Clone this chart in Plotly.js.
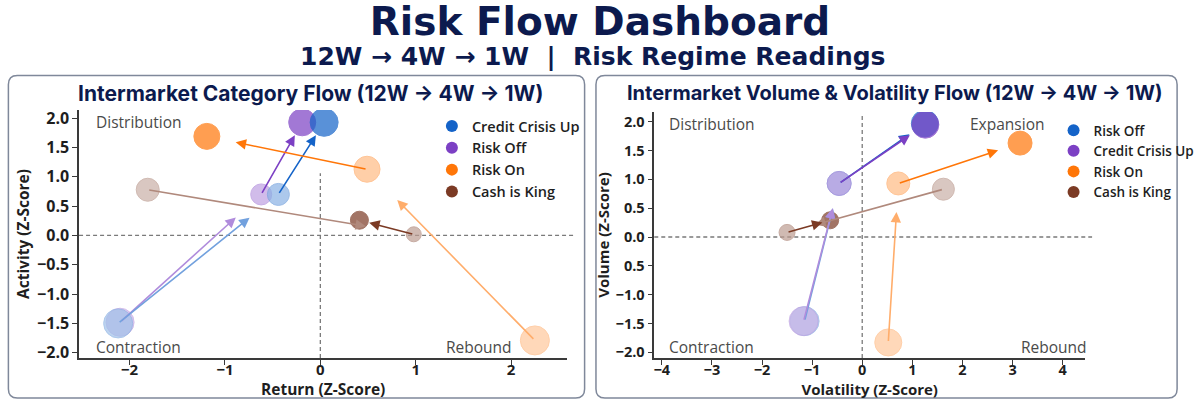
<!DOCTYPE html>
<html>
<head>
<meta charset="utf-8">
<script src="https://cdn.plot.ly/plotly-3.0.1.min.js"></script>
<style>
  html, body { margin: 0; padding: 0; background: #ffffff; overflow: hidden; width: 1200px; height: 400px; }
  #chart { width: 1200px; height: 400px; overflow: hidden; }
</style>
</head>
<body>
<div id="chart"></div>
<script>
// ---------------- DATA (stages: 12W, 4W, 1W) ----------------
const stages = ["12W", "4W", "1W"];

// Left panel: Intermarket Category Flow — x = Return (Z), y = Activity (Z)
const catCreditCrisisX = [-2.12, -0.44, 0.04];
const catCreditCrisisY = [-1.50, 0.70, 1.93];
const catRiskOffX = [-2.10, -0.62, -0.19];
const catRiskOffY = [-1.48, 0.70, 1.93];
const catRiskOnX = [2.25, 0.49, -1.19];
const catRiskOnY = [-1.79, 1.13, 1.69];
const catCashX = [-1.81, 0.98, 0.41];
const catCashY = [0.78, 0.02, 0.26];

// Right panel: Intermarket Volume & Volatility Flow — x = Volatility (Z), y = Volume (Z)
const volRiskOffX = [-1.15, -0.46, 1.25];
const volRiskOffY = [-1.46, 0.93, 1.97];
const volCreditCrisisX = [-1.17, -0.46, 1.26];
const volCreditCrisisY = [-1.46, 0.93, 1.95];
const volRiskOnX = [0.52, 0.72, 3.15];
const volRiskOnY = [-1.83, 0.93, 1.63];
const volCashX = [1.62, -1.50, -0.64];
const volCashY = [0.83, 0.08, 0.29];

// Tick labels
const leftXTicks = [-2, -1, 0, 1, 2];
const leftYTicks = [2.0, 1.5, 1.0, 0.5, 0.0, -0.5, -1.0, -1.5, -2.0];
const leftYTickText = ["2.0", "1.5", "1.0", "0.5", "0.0", "\u22120.5", "\u22121.0", "\u22121.5", "\u22122.0"];
const rightXTicks = [-4, -3, -2, -1, 0, 1, 2, 3, 4];
const rightYTicks = [2.0, 1.5, 1.0, 0.5, 0.0, -0.5, -1.0, -1.5, -2.0];
const rightYTickText = ["2.0", "1.5", "1.0", "0.5", "0.0", "0.5", "\u22121.0", "\u22121.5", "\u22122.0"];

// ---------------- STYLE ----------------
const C = {
  blue: "#1463c8",
  purple: "#7c40c4",
  orange: "#ff7608",
  brown: "#7b3a24",
  navy: "#0c1a4e"
};
const stageStrength = [0.40, 0.50, 1.0];
const segOpacity = [0.6, 1.0];
const ARROW_FRAC = 0.82;
const FONT = "Open Sans, Noto Sans, sans-serif";
const TFONT = "DejaVu Sans, Inter, sans-serif";

function mixWhite(hex, a) {
  const n = parseInt(hex.slice(1), 16);
  const r = (n >> 16) & 255, g = (n >> 8) & 255, b = n & 255;
  const m = v => Math.round(v * a + 255 * (1 - a));
  return `rgb(${m(r)},${m(g)},${m(b)})`;
}

const traces = [];
const annotations = [];

function addSeries(name, xs, ys, color, sizes, xa, ya, legendId, rank) {
  traces.push({
    type: "scatter", mode: "markers", name: name,
    x: xs, y: ys, xaxis: xa, yaxis: ya,
    text: stages, hovertemplate: name + " %{text}: (%{x}, %{y})<extra></extra>",
    showlegend: false,
    marker: {
      color: stageStrength.map(a => mixWhite(color, a)),
      size: sizes,
      line: { width: 1, color: stageStrength.map(a => mixWhite(color, Math.min(1, a + 0.1))) }
    }
  });
  traces.push({
    type: "scatter", mode: "markers", name: name,
    x: [null], y: [null], xaxis: xa, yaxis: ya,
    legend: legendId, legendrank: rank, showlegend: true,
    marker: { color: color, size: 12 }
  });
  for (let i = 0; i < xs.length - 1; i++) {
    const tx = xs[i] + ARROW_FRAC * (xs[i + 1] - xs[i]);
    const ty = ys[i] + ARROW_FRAC * (ys[i + 1] - ys[i]);
    annotations.push({
      x: tx, y: ty, ax: xs[i], ay: ys[i],
      xref: xa, yref: ya, axref: xa, ayref: ya,
      text: "", showarrow: true,
      arrowhead: 2, arrowsize: 1.3, arrowwidth: 1.6,
      arrowcolor: mixWhite(color, segOpacity[i])
    });
  }
}

// Left panel (purple drawn under blue)
addSeries("Risk Off", catRiskOffX, catRiskOffY, C.purple, [28, 21, 27], "x", "y", "legend", 2);
addSeries("Credit Crisis Up", catCreditCrisisX, catCreditCrisisY, C.blue, [29, 22, 28], "x", "y", "legend", 1);
addSeries("Risk On", catRiskOnX, catRiskOnY, C.orange, [29, 26, 26], "x", "y", "legend", 3);
addSeries("Cash is King", catCashX, catCashY, C.brown, [23, 15, 18], "x", "y", "legend", 4);

// Right panel
addSeries("Risk Off", volRiskOffX, volRiskOffY, C.blue, [29, 24, 27], "x2", "y2", "legend2", 1);
addSeries("Credit Crisis Up", volCreditCrisisX, volCreditCrisisY, C.purple, [29, 24, 27], "x2", "y2", "legend2", 2);
addSeries("Risk On", volRiskOnX, volRiskOnY, C.orange, [27, 23, 24], "x2", "y2", "legend2", 3);
addSeries("Cash is King", volCashX, volCashY, C.brown, [22, 16, 17], "x2", "y2", "legend2", 4);

// quadrant labels
const qFont = { family: FONT, size: 15.5, color: "#4a4a4a" };
function qLabel(xr, yr, x, y, xanchor, text) {
  annotations.push({ xref: xr, yref: yr, x: x, y: y, xanchor: xanchor, yanchor: "middle",
    text: text, showarrow: false, font: qFont });
}
qLabel("x domain", "y domain", 0.031, 0.952, "left", "Distribution");
qLabel("x domain", "y domain", 0.031, 0.045, "left", "Contraction");
qLabel("x domain", "y domain", 0.89, 0.045, "right", "Rebound");
qLabel("x2 domain", "y2 domain", 0.03, 0.952, "left", "Distribution");
qLabel("x2 domain", "y2 domain", 0.91, 0.952, "right", "Expansion");
qLabel("x2 domain", "y2 domain", 0.03, 0.045, "left", "Contraction");
qLabel("x2 domain", "y2 domain", 1.01, 0.045, "right", "Rebound");

// panel titles
annotations.push({ xref: "paper", yref: "paper", x: 314 / 1200, y: 1 - 93 / 400, xanchor: "center", yanchor: "middle",
  showarrow: false, text: "<b>Intermarket Category Flow (12W \u2192 4W \u2192 1W)</b>",
  font: { family: "Inter, Roboto, sans-serif", size: 21, color: C.navy } });
annotations.push({ xref: "paper", yref: "paper", x: 906 / 1200, y: 1 - 93 / 400, xanchor: "center", yanchor: "middle",
  showarrow: false, text: "<b>Intermarket Volume &amp; Volatility Flow (12W \u2192 4W \u2192 1W)</b>",
  font: { family: "Inter, Roboto, sans-serif", size: 20, color: C.navy } });
// subtitle
annotations.push({ xref: "paper", yref: "paper", x: 0.5, y: 1 - 57 / 400, xanchor: "center", yanchor: "middle",
  showarrow: false, text: "<b>12W \u2192 4W \u2192 1W  |  Risk Regime Readings</b>",
  font: { family: TFONT, size: 25, color: C.navy } });

// panel boxes (rounded) + dashed reference lines
function roundRect(x0, y0, x1, y1, r) {
  const W = 1200, H = 400;
  const X = v => (v / W).toFixed(5), Y = v => (1 - v / H).toFixed(5);
  return `M ${X(x0 + r)} ${Y(y0)} L ${X(x1 - r)} ${Y(y0)} Q ${X(x1)} ${Y(y0)} ${X(x1)} ${Y(y0 + r)} ` +
         `L ${X(x1)} ${Y(y1 - r)} Q ${X(x1)} ${Y(y1)} ${X(x1 - r)} ${Y(y1)} ` +
         `L ${X(x0 + r)} ${Y(y1)} Q ${X(x0)} ${Y(y1)} ${X(x0)} ${Y(y1 - r)} ` +
         `L ${X(x0)} ${Y(y0 + r)} Q ${X(x0)} ${Y(y0)} ${X(x0 + r)} ${Y(y0)} Z`;
}
const dash = { color: "#7a7a7a", width: 1.3, dash: "4px,3px" };
const shapes = [
  { type: "path", xref: "paper", yref: "paper", path: roundRect(8.5, 75.5, 591.5, 398, 9),
    line: { color: "#7f889a", width: 1.5 }, fillcolor: "rgba(0,0,0,0)", layer: "below" },
  { type: "path", xref: "paper", yref: "paper", path: roundRect(603, 75.5, 1191, 398, 9),
    line: { color: "#7f889a", width: 1.5 }, fillcolor: "rgba(0,0,0,0)", layer: "below" },
  { type: "line", xref: "x domain", yref: "y", x0: 0, x1: 1.015, y0: 0, y1: 0, line: dash, layer: "below" },
  { type: "line", xref: "x", yref: "y domain", x0: 0, x1: 0, y0: 0, y1: 0.745, line: dash, layer: "below" },
  { type: "line", xref: "x2 domain", yref: "y2", x0: 0, x1: 1.016, y0: 0, y1: 0, line: dash, layer: "below" },
  { type: "line", xref: "x2", yref: "y2 domain", x0: 0, x1: 0, y0: 0, y1: 0.985, line: dash, layer: "below" }
];

const tickFontL = { family: FONT, size: 16, color: "#1e1e1e", weight: 700 };
const tickFontLX = { family: FONT, size: 15, color: "#1e1e1e", weight: 700 };
const tickFontR = { family: FONT, size: 14.5, color: "#1e1e1e", weight: 700 };
const axTitleFontL = { family: FONT, size: 15.5, color: "#1e1e1e", weight: 700 };
const axTitleFontR = { family: FONT, size: 15, color: "#1e1e1e", weight: 700 };
const axisCommon = {
  showline: true, linecolor: "#3a3a3a", linewidth: 1.5, mirror: false,
  ticks: "outside", ticklen: 5, tickwidth: 1.2, tickcolor: "#3a3a3a",
  showgrid: false, zeroline: false, automargin: false
};

const layout = {
  width: 1200, height: 400,
  margin: { l: 0, r: 0, t: 0, b: 0 },
  paper_bgcolor: "#ffffff", plot_bgcolor: "rgba(0,0,0,0)",
  font: { family: FONT, color: "#1e1e1e" },
  title: { text: "<b>Risk Flow Dashboard</b>", x: 0.5, xanchor: "center", y: 1 - 8 / 400, yanchor: "top",
    font: { family: TFONT, size: 39, color: C.navy } },
  xaxis: Object.assign({}, axisCommon, {
    domain: [80 / 1200, 574 / 1200], range: [-2.53, 2.59], anchor: "y", tickfont: tickFontLX,
    tickvals: leftXTicks, ticktext: leftXTicks.map(v => v < 0 ? "\u2212" + Math.abs(v) : String(v)),
    ticklabelstandoff: -8,
    title: { text: "Return (Z-Score)", font: axTitleFontL, standoff: 7 }
  }),
  yaxis: Object.assign({}, axisCommon, {
    domain: [1 - 358 / 400, 1 - 110 / 400], range: [-2.09, 2.14], anchor: "x", tickfont: tickFontL,
    tickvals: leftYTicks, ticktext: leftYTickText,
    title: { text: "Activity (Z-Score)", font: axTitleFontL, standoff: 4 }
  }),
  xaxis2: Object.assign({}, axisCommon, {
    domain: [662 / 1200, 1098 / 1200], range: [-4.15, 4.45], anchor: "y2", tickfont: tickFontR,
    tickvals: rightXTicks, ticktext: rightXTicks.map(v => v < 0 ? "\u2212" + Math.abs(v) : String(v)),
    ticklabelstandoff: -7,
    title: { text: "Volatility (Z-Score)", font: axTitleFontR, standoff: 6 }
  }),
  yaxis2: Object.assign({}, axisCommon, {
    domain: [1 - 358 / 400, 1 - 112 / 400], range: [-2.1, 2.17], anchor: "x2", tickfont: tickFontR,
    tickvals: rightYTicks, ticktext: rightYTickText,
    title: { text: "Volume (Z-Score)", font: axTitleFontR, standoff: 2 }
  }),
  legend: {
    x: 437 / 1200, y: 1 - 110 / 400, xanchor: "left", yanchor: "top",
    bgcolor: "rgba(0,0,0,0)", font: { family: FONT, size: 14.5, color: "#1e1e1e", weight: 600 },
    itemsizing: "constant", tracegroupgap: 0, traceorder: "normal"
  },
  legend2: {
    x: 1066 / 1200, y: 1 - 115 / 400, xanchor: "left", yanchor: "top",
    bgcolor: "rgba(0,0,0,0)", font: { family: FONT, size: 13.5, color: "#1e1e1e", weight: 600 },
    itemsizing: "constant", tracegroupgap: 0, traceorder: "normal"
  },
  shapes: shapes,
  annotations: annotations,
  showlegend: true,
  hovermode: "closest"
};

Plotly.newPlot("chart", traces, layout, { displayModeBar: false, responsive: false });
</script>
</body>
</html>
